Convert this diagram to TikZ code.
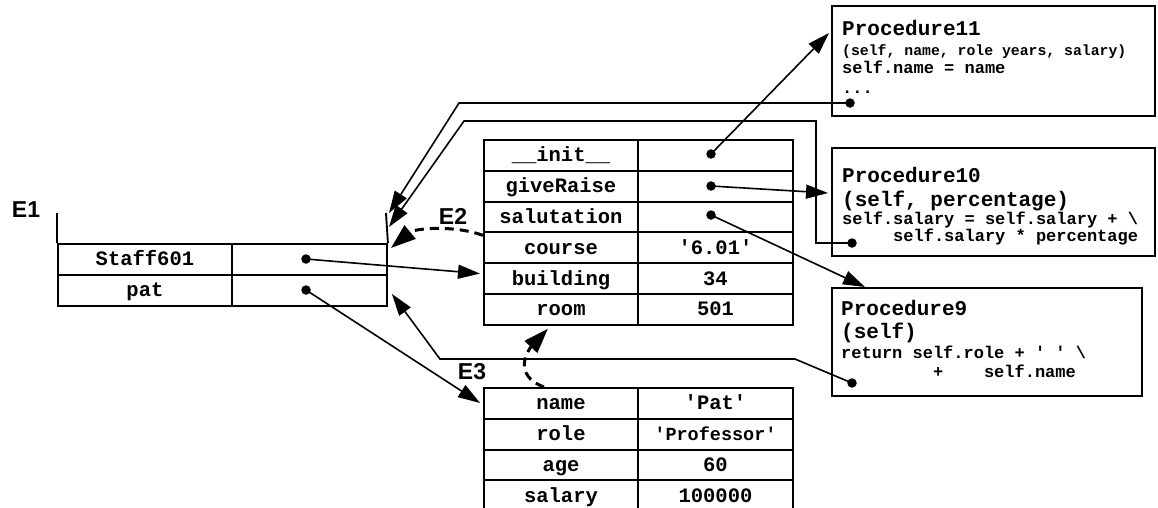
\documentclass[tikz,border=0pt]{standalone}
\usepackage{fontspec}
\setmainfont{Liberation Sans}
\newfontfamily\cour{Liberation Mono}
\usetikzlibrary{arrows.meta,calc}
\newcommand{\myq}{\textquotesingle}
\begin{document}
\begin{tikzpicture}[x=1pt,y=-1pt,
  cellfont/.style={font=\cour\bfseries\fontsize{20.5}{24}\selectfont},
  cell/.style={draw, line width=1.9pt, inner sep=0pt, anchor=north west, minimum height=30.8pt, text height=13pt, text depth=0pt, cellfont},
  kcol/.style={cell, minimum width=154pt},
  vcol/.style={cell, minimum width=155pt},
  pbox/.style={draw, line width=1.9pt, inner sep=0pt, anchor=north west},
  ptxt/.style={anchor=base west, inner sep=0pt, font=\cour\bfseries\fontsize{#1}{#1}\selectfont},
  envlab/.style={font=\bfseries\fontsize{23}{23}\selectfont, inner sep=0pt},
  dotn/.style={circle, fill=black, inner sep=0pt, minimum size=9.5pt},
  arr/.style={line width=1.6pt, -{Triangle[length=22pt,width=14pt]}},
  darr/.style={line width=3pt, dash pattern=on 9pt off 6pt, -{Triangle[length=25pt,width=17pt]}},
  frame/.style={line width=1.9pt}
]
\useasboundingbox (0,0) rectangle (1158,507);

% ---------- E1 ----------
\node[envlab] (e1lab) at (26,210) {E1};
\node[kcol, minimum width=174pt, minimum height=31pt] (e1k1) at (57,243) {Staff601};
\node[vcol, minimum height=31pt] (e1v1) at (231,243) {};
\node[kcol, minimum width=174pt, minimum height=31pt] (e1k2) at (57,274) {pat};
\node[vcol, minimum height=31pt] (e1v2) at (231,274) {};
\coordinate (e1tl) at (57,213);
\coordinate (e1tr) at (386,213);
\draw[frame] (e1tl) -- (e1k1.north west);
\draw[frame] (e1tr) -- (e1v1.north east);
\node[dotn] (dstaff) at (306,259) {};
\node[dotn] (dpat) at (306,290) {};

% ---------- E2 ----------
\node[envlab] (e2lab) at (453,216) {E2};
\node[kcol] (e2k1) at (483,139) {\_\_init\_\_};
\node[vcol] (e2v1) at (637,139) {};
\node[kcol] (e2k2) at (483,169.8) {giveRaise};
\node[vcol] (e2v2) at (637,169.8) {};
\node[kcol] (e2k3) at (483,200.6) {salutation};
\node[vcol] (e2v3) at (637,200.6) {};
\node[kcol] (e2k4) at (483,231.4) {course};
\node[vcol] (e2v4) at (637,231.4) {\myq6.01\myq};
\node[kcol] (e2k5) at (483,262.2) {building};
\node[vcol] (e2v5) at (637,262.2) {34};
\node[kcol] (e2k6) at (483,293) {room};
\node[vcol] (e2v6) at (637,293) {501};
\node[dotn] (dinit) at (711,154) {};
\node[dotn] (draise) at (711,186) {};
\node[dotn] (dsalut) at (711,215) {};

% ---------- E3 ----------
\node[envlab] (e3lab) at (472,372) {E3};
\node[kcol] (e3k1) at (483,387) {name};
\node[vcol] (e3v1) at (637,387) {\myq Pat\myq};
\node[kcol] (e3k2) at (483,417.8) {role};
\node[vcol, font=\cour\bfseries\fontsize{18.5}{22}\selectfont] (e3v2) at (637,417.8) {\myq Professor\myq};
\node[kcol] (e3k3) at (483,448.6) {age};
\node[vcol] (e3v3) at (637,448.6) {60};
\node[kcol] (e3k4) at (483,479.4) {salary};
\node[vcol] (e3v4) at (637,479.4) {100000};

% ---------- Procedures ----------
\node[pbox, minimum width=323pt, minimum height=110pt] (p11) at (831,5) {};
\node[ptxt=21] (p11a) at (842,35) {Procedure11};
\node[ptxt=14.8] (p11b) at (842,55) {(self, name, role years, salary)};
\node[ptxt=17] (p11c) at (842,73) {self.name = name};
\node[ptxt=17] (p11d) at (842,93) {...};
\node[dotn] (dp11) at (850,103) {};

\node[pbox, minimum width=323pt, minimum height=108pt] (p10) at (831,147) {};
\node[ptxt=21] (p10a) at (842,182) {Procedure10};
\node[ptxt=21] (p10b) at (842,206) {(self, percentage)};
\node[ptxt=17] (p10c) at (842,224) {self.salary = self.salary + \textbackslash};
\node[ptxt=17] (p10d) at (842,241) {\hphantom{xxxxx}self.salary * percentage};
\node[dotn] (dp10) at (852,243) {};

\node[pbox, minimum width=310pt, minimum height=108pt] (p9) at (831,287) {};
\node[ptxt=21] (p9a) at (841,315) {Procedure9};
\node[ptxt=21] (p9b) at (841,338) {(self)};
\node[ptxt=17] (p9c) at (841,358) {return self.role + \myq\ \myq\ \textbackslash};
\node[ptxt=17] (p9d) at (841,377) {\hphantom{xxxxxxxxx}+\hphantom{xxxx}self.name};
\node[dotn] (dp9) at (852,383) {};

% ---------- connectors ----------
\draw[arr] (dstaff.center) -- ([xshift=-3pt,yshift=5pt]e2k5.west);
\draw[arr] (dpat.center) -- ([xshift=-3pt,yshift=-16pt]e3k1.north west);
\draw[arr] (dinit.center) -- ([xshift=-2pt,yshift=-28pt]p11.north west);
\draw[arr] (draise.center) -- ([xshift=-3pt,yshift=-46pt]p10.north west);
\draw[arr] (dsalut.center) -- ([xshift=34pt]p9.north west);
\draw[arr] (dp11.center) -- (459,103) -- ([xshift=3pt]e1tr);
\draw[arr] (dp10.center) -- (816,243) -- (816,121) -- (464,121) -- ([xshift=3pt,yshift=-14pt]e1tr);
\draw[arr] (dp9.center) -- (795,359) -- (440,359) -- ([xshift=4pt,yshift=13pt]e1v2.south east);
\draw[darr] ([yshift=-4pt]e2k4.north west) .. controls (455,225) and (415,228) .. ([xshift=3pt,yshift=-5pt]e1v1.north east);
\draw[darr] ([xshift=-17pt]e3k1.north) .. controls (512,375) and (528,350) .. ([xshift=-13pt,yshift=-3pt]e2k6.south);
\end{tikzpicture}
\end{document}
